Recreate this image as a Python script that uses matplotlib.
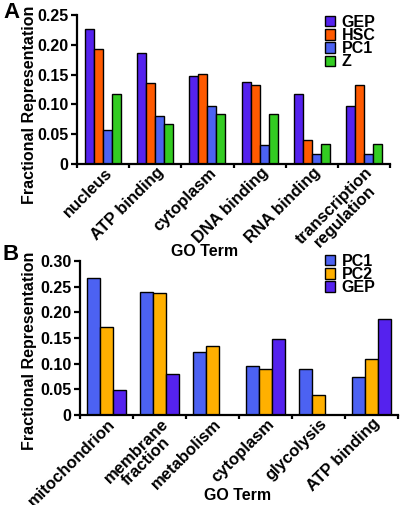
import matplotlib
matplotlib.use("Agg")
import matplotlib.pyplot as plt
import matplotlib.transforms as mtransforms
import numpy as np

# panel A
terms_a = ["nucleus", "ATP binding", "cytoplasm", "DNA binding", "RNA binding",
           "transcription\nregulation"]
series_a = ["GEP", "HSC", "PC1", "Z"]
gep_a = [0.226, 0.187, 0.147, 0.138, 0.117, 0.098]
hsc_a = [0.193, 0.136, 0.151, 0.133, 0.040, 0.133]
pc1_a = [0.057, 0.081, 0.098, 0.032, 0.017, 0.017]
z_a = [0.117, 0.067, 0.084, 0.084, 0.034, 0.034]
yticks_a = [0, 0.05, 0.10, 0.15, 0.20, 0.25]
ylabels_a = ["0", "0.05", "0.10", "0.15", "0.20", "0.25"]

# panel B
terms_b = ["mitochondrion", "membrane\nfraction", "metabolism", "cytoplasm",
           "glycolysis", "ATP binding"]
series_b = ["PC1", "PC2", "GEP"]
pc1_b = [0.267, 0.239, 0.123, 0.096, 0.090, 0.075]
pc2_b = [0.172, 0.237, 0.135, 0.090, 0.038, 0.109]
gep_b = [0.049, 0.079, 0.0, 0.148, 0.0, 0.187]
yticks_b = [0, 0.05, 0.10, 0.15, 0.20, 0.25, 0.30]
ylabels_b = ["0", "0.05", "0.10", "0.15", "0.20", "0.25", "0.30"]

colors = {"GEP": "#5522ee", "HSC": "#ff5a00", "PC1": "#4c62f2",
          "Z": "#33cc22", "PC2": "#ffb000"}

plt.rcParams["font.family"] = ["Liberation Sans", "DejaVu Sans"]
plt.rcParams["font.weight"] = "bold"

W, H = 400, 505
fig = plt.figure(figsize=(W / 100, H / 100), dpi=100)


def draw_panel(ax, terms, names, values, width, yticks, ylabels, ymax,
               leg_xy):
    x = np.arange(len(terms))
    n = len(names)
    for i, (name, vals) in enumerate(zip(names, values)):
        off = (i - (n - 1) / 2) * width
        ax.bar(x + off, vals, width, color=colors[name], edgecolor="black",
               linewidth=1.0, label=name, zorder=2)
    ax.set_xlim(-0.5, len(terms) - 0.5)
    ax.set_ylim(0, ymax)
    ax.spines["top"].set_visible(False)
    ax.spines["right"].set_visible(False)
    for s in ("left", "bottom"):
        ax.spines[s].set_linewidth(1.6)
    ax.set_yticks(yticks)
    ax.set_yticklabels(ylabels, fontsize=11.5, fontweight="bold")
    ax.tick_params(axis="y", length=4, width=1.6, pad=2)
    ax.set_xticks(np.arange(len(terms) + 1) - 0.5)
    ax.set_xticklabels([])
    ax.tick_params(axis="x", length=3, width=1.6)
    tr = mtransforms.offset_copy(ax.transData, fig=fig, x=0, y=-1,
                                 units="dots")
    for xi, t in zip(x, terms):
        ax.text(xi + 0.02, 0, t, rotation=45, ha="right", va="top",
                rotation_mode="anchor", fontsize=12, fontweight="bold",
                multialignment="center", transform=tr, linespacing=0.95)
    ax.set_ylabel("Fractional Representation", fontsize=11.5,
                  fontweight="bold")
    leg = ax.legend(loc="upper left", frameon=False, fontsize=11.5,
                    handlelength=0.6, handleheight=0.6, handletextpad=0.45,
                    labelspacing=-0.12, borderaxespad=0.0, borderpad=0.0,
                    bbox_to_anchor=(leg_xy[0] / W, 1 - leg_xy[1] / H),
                    bbox_transform=fig.transFigure)
    for t in leg.get_texts():
        t.set_fontweight("bold")


ax_a = fig.add_axes([77 / W, 1 - 164 / H, 313 / W, 149 / H])
ax_b = fig.add_axes([80 / W, 1 - 415 / H, 318 / W, 154 / H])

draw_panel(ax_a, terms_a, series_a, [gep_a, hsc_a, pc1_a, z_a], 0.173,
           yticks_a, ylabels_a, 0.25, (325, 15))
ax_a.yaxis.set_label_coords(-0.128, 0.40)
draw_panel(ax_b, terms_b, series_b, [pc1_b, pc2_b, gep_b], 0.245,
           yticks_b, ylabels_b, 0.30, (325, 254))
ax_b.yaxis.set_label_coords(-0.135, 0.42)

fig.text(205 / W, 1 - 251 / H, "GO Term", ha="center", va="center",
         fontsize=11.5, fontweight="bold")
fig.text(238 / W, 1 - 495 / H, "GO Term", ha="center", va="center",
         fontsize=11.5, fontweight="bold")
fig.text(3 / W, 1 - 12 / H, "A", ha="left", va="center", fontsize=16,
         fontweight="bold")
fig.text(2 / W, 1 - 255 / H, "B", ha="left", va="center", fontsize=16,
         fontweight="bold")

fig.savefig("out.png", dpi=100)
